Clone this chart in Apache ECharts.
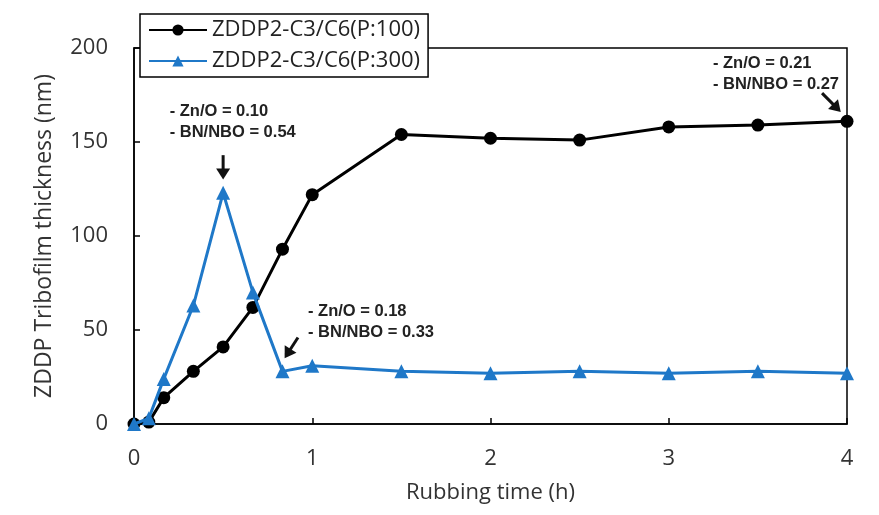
<!DOCTYPE html>
<html>
<head>
<meta charset="utf-8">
<script src="https://cdn.jsdelivr.net/npm/echarts@6/dist/echarts.min.js"></script>
<style>html,body{margin:0;padding:0;background:#fff;}#c{width:879px;height:515px;}</style>
</head>
<body>
<div id="c"></div>
<script>
// Data (rubbing time in hours, tribofilm thickness in nm)
const timeP100 = [0, 0.083, 0.167, 0.333, 0.5, 0.667, 0.833, 1, 1.5, 2, 2.5, 3, 3.5, 4];
const thickP100 = [0, 1, 14, 28, 41, 62, 93, 122, 154, 152, 151, 158, 159, 161];
const timeP300 = [0, 0.083, 0.167, 0.333, 0.5, 0.667, 0.833, 1, 1.5, 2, 2.5, 3, 3.5, 4];
const thickP300 = [0, 3, 24, 63, 123, 70, 28, 31, 28, 27, 28, 27, 28, 27];
const seriesNames = ['ZDDP2-C3/C6(P:100)', 'ZDDP2-C3/C6(P:300)'];
const xTicks = [0, 1, 2, 3, 4];
const yTicks = [0, 50, 100, 150, 200];
const annotations = [
  { lines: ['- Zn/O = 0.10', '- BN/NBO = 0.54'], text: [0.2, 166], arrow: [[0.5, 143], [0.5, 130]] },
  { lines: ['- Zn/O = 0.18', '- BN/NBO = 0.33'], text: [0.976, 60], arrow: [[0.92, 46], [0.845, 35]] },
  { lines: ['- Zn/O = 0.21', '- BN/NBO = 0.27'], text: [3.248, 192], arrow: [[3.86, 176], [3.965, 166]] }
];

const FONT = '"Open Sans", sans-serif';
const chart = echarts.init(document.getElementById('c'));
const zip = (xs, ys) => xs.map((x, i) => [x, ys[i]]);

chart.setOption({
  animation: false,
  backgroundColor: '#fff',
  grid: { left: 134, right: 32, top: 48, bottom: 91, show: true, borderColor: '#000', borderWidth: 1.5, backgroundColor: 'transparent', z: 0 },
  legend: {
    left: 140, top: 14, orient: 'vertical',
    backgroundColor: '#fff', borderColor: '#000', borderWidth: 1.5,
    padding: [5, 8, 5, 8], itemGap: 9, itemWidth: 58, itemHeight: 14,
    textStyle: { fontFamily: FONT, fontSize: 22, color: '#222' },
    data: seriesNames
  },
  xAxis: {
    type: 'value', min: xTicks[0], max: xTicks[xTicks.length - 1], interval: 1,
    name: 'Rubbing time (h)', nameLocation: 'middle', nameGap: 58,
    nameTextStyle: { fontFamily: FONT, fontSize: 22, color: '#333' },
    axisLine: { lineStyle: { color: '#000', width: 1.5 } },
    axisTick: { inside: true, length: 6, lineStyle: { color: '#000', width: 1.5 } },
    axisLabel: { fontFamily: FONT, fontSize: 22, color: '#333', margin: 24 },
    splitLine: { show: false }
  },
  yAxis: {
    type: 'value', min: yTicks[0], max: yTicks[yTicks.length - 1], interval: 50,
    name: 'ZDDP Tribofilm thickness (nm)', nameLocation: 'middle', nameGap: 78,
    nameTextStyle: { fontFamily: FONT, fontSize: 23, color: '#333' },
    axisLine: { show: true, lineStyle: { color: '#000', width: 1.5 } },
    axisTick: { show: true, inside: true, length: 6, lineStyle: { color: '#000', width: 1.5 } },
    axisLabel: { fontFamily: FONT, fontSize: 22, color: '#333', margin: 26 },
    splitLine: { show: false }
  },
  series: [
    {
      name: seriesNames[0], type: 'line', data: zip(timeP100, thickP100),
      symbol: 'circle', symbolSize: 13, z: 3,
      lineStyle: { color: '#000', width: 3 }, itemStyle: { color: '#000' }
    },
    {
      name: seriesNames[1], type: 'line', data: zip(timeP300, thickP300),
      symbol: 'triangle', symbolSize: 14, z: 4,
      lineStyle: { color: '#1f78c8', width: 3 }, itemStyle: { color: '#1f78c8' }
    }
  ]
});

function arrowShape(p0, p1) {
  const dx = p1[0] - p0[0], dy = p1[1] - p0[1];
  const L = Math.sqrt(dx * dx + dy * dy), ux = dx / L, uy = dy / L;
  const head = 11, half = 7;
  const bx = p1[0] - ux * head, by = p1[1] - uy * head;
  return [
    { type: 'line', shape: { x1: p0[0], y1: p0[1], x2: bx + ux, y2: by + uy }, style: { stroke: '#111', lineWidth: 3 }, z: 20 },
    { type: 'polygon', shape: { points: [[p1[0], p1[1]], [bx - uy * half, by + ux * half], [bx + uy * half, by - ux * half]] }, style: { fill: '#111' }, z: 20 }
  ];
}
const gfx = [];
annotations.forEach(a => {
  const t = chart.convertToPixel({ gridIndex: 0 }, a.text);
  a.lines.forEach((ln, i) => {
    gfx.push({ type: 'text', x: t[0], y: t[1] + i * 21, z: 20,
      style: { text: ln, fill: '#222', font: 'bold 16.5px "Liberation Sans", Arial, sans-serif', textVerticalAlign: 'middle' } });
  });
  const p0 = chart.convertToPixel({ gridIndex: 0 }, a.arrow[0]);
  const p1 = chart.convertToPixel({ gridIndex: 0 }, a.arrow[1]);
  arrowShape(p0, p1).forEach(g => gfx.push(g));
});
chart.setOption({ graphic: gfx });
</script>
</body>
</html>
